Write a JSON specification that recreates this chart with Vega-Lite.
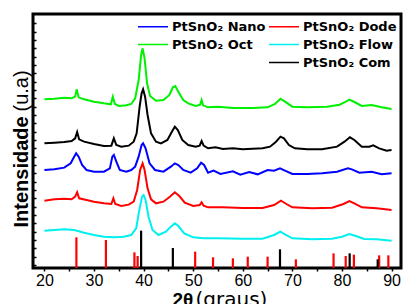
{
  "$schema": "https://vega.github.io/schema/vega-lite/v6.json",
  "width": 368,
  "height": 254,
  "autosize": {"type": "none"},
  "padding": {"left": 33, "top": 14, "right": 2, "bottom": 36},
  "config": {
    "view": {"stroke": "black", "strokeWidth": 3},
    "font": "Liberation Sans"
  },
  "datasets": {
    "curves": [
      {"s": "PtSnO₂ Oct", "t": 20, "i": 506}, {"s": "PtSnO₂ Oct", "t": 22, "i": 508}, {"s": "PtSnO₂ Oct", "t": 24, "i": 511}, {"s": "PtSnO₂ Oct", "t": 25.5, "i": 509}, {"s": "PtSnO₂ Oct", "t": 26.2, "i": 514}, {"s": "PtSnO₂ Oct", "t": 26.5, "i": 536}, {"s": "PtSnO₂ Oct", "t": 26.9, "i": 512}, {"s": "PtSnO₂ Oct", "t": 28, "i": 506}, {"s": "PtSnO₂ Oct", "t": 30, "i": 499}, {"s": "PtSnO₂ Oct", "t": 32, "i": 494}, {"s": "PtSnO₂ Oct", "t": 33.4, "i": 491}, {"s": "PtSnO₂ Oct", "t": 33.8, "i": 514}, {"s": "PtSnO₂ Oct", "t": 34.2, "i": 492}, {"s": "PtSnO₂ Oct", "t": 35, "i": 486}, {"s": "PtSnO₂ Oct", "t": 36.5, "i": 488}, {"s": "PtSnO₂ Oct", "t": 37.5, "i": 492}, {"s": "PtSnO₂ Oct", "t": 38.3, "i": 509}, {"s": "PtSnO₂ Oct", "t": 39.0, "i": 564}, {"s": "PtSnO₂ Oct", "t": 39.5, "i": 639}, {"s": "PtSnO₂ Oct", "t": 39.8, "i": 659}, {"s": "PtSnO₂ Oct", "t": 40.2, "i": 629}, {"s": "PtSnO₂ Oct", "t": 40.7, "i": 554}, {"s": "PtSnO₂ Oct", "t": 41.3, "i": 516}, {"s": "PtSnO₂ Oct", "t": 42.5, "i": 502}, {"s": "PtSnO₂ Oct", "t": 44, "i": 504}, {"s": "PtSnO₂ Oct", "t": 45.2, "i": 519}, {"s": "PtSnO₂ Oct", "t": 45.9, "i": 542}, {"s": "PtSnO₂ Oct", "t": 46.4, "i": 546}, {"s": "PtSnO₂ Oct", "t": 47, "i": 529}, {"s": "PtSnO₂ Oct", "t": 48, "i": 504}, {"s": "PtSnO₂ Oct", "t": 49, "i": 494}, {"s": "PtSnO₂ Oct", "t": 50.5, "i": 486}, {"s": "PtSnO₂ Oct", "t": 51.4, "i": 490}, {"s": "PtSnO₂ Oct", "t": 51.7, "i": 504}, {"s": "PtSnO₂ Oct", "t": 52, "i": 488}, {"s": "PtSnO₂ Oct", "t": 53, "i": 482}, {"s": "PtSnO₂ Oct", "t": 55, "i": 484}, {"s": "PtSnO₂ Oct", "t": 58, "i": 480}, {"s": "PtSnO₂ Oct", "t": 62, "i": 480}, {"s": "PtSnO₂ Oct", "t": 65, "i": 482}, {"s": "PtSnO₂ Oct", "t": 66.5, "i": 492}, {"s": "PtSnO₂ Oct", "t": 67.6, "i": 508}, {"s": "PtSnO₂ Oct", "t": 68.5, "i": 499}, {"s": "PtSnO₂ Oct", "t": 70, "i": 484}, {"s": "PtSnO₂ Oct", "t": 73, "i": 482}, {"s": "PtSnO₂ Oct", "t": 77, "i": 484}, {"s": "PtSnO₂ Oct", "t": 79.5, "i": 490}, {"s": "PtSnO₂ Oct", "t": 80.8, "i": 499}, {"s": "PtSnO₂ Oct", "t": 81.5, "i": 505}, {"s": "PtSnO₂ Oct", "t": 82.5, "i": 498}, {"s": "PtSnO₂ Oct", "t": 84, "i": 486}, {"s": "PtSnO₂ Oct", "t": 86, "i": 489}, {"s": "PtSnO₂ Oct", "t": 88, "i": 482}, {"s": "PtSnO₂ Oct", "t": 90, "i": 477},

      {"s": "PtSnO₂ Com", "t": 20, "i": 374}, {"s": "PtSnO₂ Com", "t": 22, "i": 376}, {"s": "PtSnO₂ Com", "t": 24, "i": 378}, {"s": "PtSnO₂ Com", "t": 25.5, "i": 381}, {"s": "PtSnO₂ Com", "t": 26.2, "i": 389}, {"s": "PtSnO₂ Com", "t": 26.6, "i": 408}, {"s": "PtSnO₂ Com", "t": 27, "i": 386}, {"s": "PtSnO₂ Com", "t": 28, "i": 379}, {"s": "PtSnO₂ Com", "t": 30, "i": 372}, {"s": "PtSnO₂ Com", "t": 32, "i": 366}, {"s": "PtSnO₂ Com", "t": 33.5, "i": 367}, {"s": "PtSnO₂ Com", "t": 34.0, "i": 389}, {"s": "PtSnO₂ Com", "t": 34.5, "i": 369}, {"s": "PtSnO₂ Com", "t": 35.5, "i": 364}, {"s": "PtSnO₂ Com", "t": 37, "i": 367}, {"s": "PtSnO₂ Com", "t": 38, "i": 379}, {"s": "PtSnO₂ Com", "t": 38.6, "i": 404}, {"s": "PtSnO₂ Com", "t": 39.2, "i": 484}, {"s": "PtSnO₂ Com", "t": 39.6, "i": 524}, {"s": "PtSnO₂ Com", "t": 39.9, "i": 536}, {"s": "PtSnO₂ Com", "t": 40.3, "i": 514}, {"s": "PtSnO₂ Com", "t": 40.8, "i": 459}, {"s": "PtSnO₂ Com", "t": 41.5, "i": 404}, {"s": "PtSnO₂ Com", "t": 42.5, "i": 379}, {"s": "PtSnO₂ Com", "t": 43.5, "i": 374}, {"s": "PtSnO₂ Com", "t": 44.8, "i": 384}, {"s": "PtSnO₂ Com", "t": 45.7, "i": 409}, {"s": "PtSnO₂ Com", "t": 46.3, "i": 424}, {"s": "PtSnO₂ Com", "t": 46.9, "i": 414}, {"s": "PtSnO₂ Com", "t": 47.8, "i": 384}, {"s": "PtSnO₂ Com", "t": 49, "i": 369}, {"s": "PtSnO₂ Com", "t": 50.5, "i": 364}, {"s": "PtSnO₂ Com", "t": 51.3, "i": 367}, {"s": "PtSnO₂ Com", "t": 51.7, "i": 381}, {"s": "PtSnO₂ Com", "t": 52.1, "i": 367}, {"s": "PtSnO₂ Com", "t": 53, "i": 359}, {"s": "PtSnO₂ Com", "t": 54.5, "i": 362}, {"s": "PtSnO₂ Com", "t": 56, "i": 357}, {"s": "PtSnO₂ Com", "t": 58, "i": 359}, {"s": "PtSnO₂ Com", "t": 60, "i": 356}, {"s": "PtSnO₂ Com", "t": 62, "i": 358}, {"s": "PtSnO₂ Com", "t": 64, "i": 359}, {"s": "PtSnO₂ Com", "t": 65.5, "i": 364}, {"s": "PtSnO₂ Com", "t": 66.7, "i": 379}, {"s": "PtSnO₂ Com", "t": 67.6, "i": 394}, {"s": "PtSnO₂ Com", "t": 68.3, "i": 389}, {"s": "PtSnO₂ Com", "t": 69.3, "i": 369}, {"s": "PtSnO₂ Com", "t": 70.5, "i": 359}, {"s": "PtSnO₂ Com", "t": 73, "i": 356}, {"s": "PtSnO₂ Com", "t": 76, "i": 356}, {"s": "PtSnO₂ Com", "t": 79, "i": 364}, {"s": "PtSnO₂ Com", "t": 80.5, "i": 379}, {"s": "PtSnO₂ Com", "t": 81.6, "i": 392}, {"s": "PtSnO₂ Com", "t": 82.5, "i": 384}, {"s": "PtSnO₂ Com", "t": 84, "i": 364}, {"s": "PtSnO₂ Com", "t": 85.5, "i": 364}, {"s": "PtSnO₂ Com", "t": 86.3, "i": 368}, {"s": "PtSnO₂ Com", "t": 87.5, "i": 359}, {"s": "PtSnO₂ Com", "t": 89, "i": 352}, {"s": "PtSnO₂ Com", "t": 90, "i": 354},

      {"s": "PtSnO₂ Nano", "t": 20, "i": 294}, {"s": "PtSnO₂ Nano", "t": 22, "i": 296}, {"s": "PtSnO₂ Nano", "t": 24, "i": 301}, {"s": "PtSnO₂ Nano", "t": 25.3, "i": 314}, {"s": "PtSnO₂ Nano", "t": 26.0, "i": 334}, {"s": "PtSnO₂ Nano", "t": 26.4, "i": 344}, {"s": "PtSnO₂ Nano", "t": 26.9, "i": 334}, {"s": "PtSnO₂ Nano", "t": 27.6, "i": 309}, {"s": "PtSnO₂ Nano", "t": 28.5, "i": 294}, {"s": "PtSnO₂ Nano", "t": 30, "i": 289}, {"s": "PtSnO₂ Nano", "t": 32, "i": 289}, {"s": "PtSnO₂ Nano", "t": 33.2, "i": 299}, {"s": "PtSnO₂ Nano", "t": 33.7, "i": 334}, {"s": "PtSnO₂ Nano", "t": 34.0, "i": 339}, {"s": "PtSnO₂ Nano", "t": 34.5, "i": 319}, {"s": "PtSnO₂ Nano", "t": 35.2, "i": 294}, {"s": "PtSnO₂ Nano", "t": 36.5, "i": 289}, {"s": "PtSnO₂ Nano", "t": 37.5, "i": 294}, {"s": "PtSnO₂ Nano", "t": 38.3, "i": 304}, {"s": "PtSnO₂ Nano", "t": 39.0, "i": 334}, {"s": "PtSnO₂ Nano", "t": 39.6, "i": 369}, {"s": "PtSnO₂ Nano", "t": 39.9, "i": 374}, {"s": "PtSnO₂ Nano", "t": 40.4, "i": 359}, {"s": "PtSnO₂ Nano", "t": 41.2, "i": 314}, {"s": "PtSnO₂ Nano", "t": 42.3, "i": 294}, {"s": "PtSnO₂ Nano", "t": 44, "i": 289}, {"s": "PtSnO₂ Nano", "t": 45.5, "i": 304}, {"s": "PtSnO₂ Nano", "t": 46.3, "i": 314}, {"s": "PtSnO₂ Nano", "t": 47, "i": 309}, {"s": "PtSnO₂ Nano", "t": 48, "i": 294}, {"s": "PtSnO₂ Nano", "t": 49.5, "i": 286}, {"s": "PtSnO₂ Nano", "t": 50.8, "i": 299}, {"s": "PtSnO₂ Nano", "t": 51.6, "i": 316}, {"s": "PtSnO₂ Nano", "t": 52.2, "i": 309}, {"s": "PtSnO₂ Nano", "t": 53, "i": 286}, {"s": "PtSnO₂ Nano", "t": 54.1, "i": 292}, {"s": "PtSnO₂ Nano", "t": 55.5, "i": 282}, {"s": "PtSnO₂ Nano", "t": 58, "i": 290}, {"s": "PtSnO₂ Nano", "t": 59.5, "i": 280}, {"s": "PtSnO₂ Nano", "t": 61.3, "i": 288}, {"s": "PtSnO₂ Nano", "t": 63, "i": 281}, {"s": "PtSnO₂ Nano", "t": 65, "i": 294}, {"s": "PtSnO₂ Nano", "t": 66.3, "i": 292}, {"s": "PtSnO₂ Nano", "t": 67.5, "i": 299}, {"s": "PtSnO₂ Nano", "t": 68.5, "i": 292}, {"s": "PtSnO₂ Nano", "t": 70, "i": 282}, {"s": "PtSnO₂ Nano", "t": 73, "i": 282}, {"s": "PtSnO₂ Nano", "t": 76, "i": 284}, {"s": "PtSnO₂ Nano", "t": 79, "i": 289}, {"s": "PtSnO₂ Nano", "t": 81.2, "i": 299}, {"s": "PtSnO₂ Nano", "t": 82, "i": 296}, {"s": "PtSnO₂ Nano", "t": 83.5, "i": 286}, {"s": "PtSnO₂ Nano", "t": 86, "i": 289}, {"s": "PtSnO₂ Nano", "t": 88, "i": 281}, {"s": "PtSnO₂ Nano", "t": 90, "i": 284},

      {"s": "PtSnO₂ Dode", "t": 20, "i": 202}, {"s": "PtSnO₂ Dode", "t": 22, "i": 206}, {"s": "PtSnO₂ Dode", "t": 24, "i": 208}, {"s": "PtSnO₂ Dode", "t": 25.5, "i": 206}, {"s": "PtSnO₂ Dode", "t": 26.2, "i": 214}, {"s": "PtSnO₂ Dode", "t": 26.6, "i": 227}, {"s": "PtSnO₂ Dode", "t": 27, "i": 209}, {"s": "PtSnO₂ Dode", "t": 28.5, "i": 204}, {"s": "PtSnO₂ Dode", "t": 30, "i": 199}, {"s": "PtSnO₂ Dode", "t": 32, "i": 194}, {"s": "PtSnO₂ Dode", "t": 33.5, "i": 192}, {"s": "PtSnO₂ Dode", "t": 33.9, "i": 209}, {"s": "PtSnO₂ Dode", "t": 34.3, "i": 192}, {"s": "PtSnO₂ Dode", "t": 35.5, "i": 186}, {"s": "PtSnO₂ Dode", "t": 37, "i": 190}, {"s": "PtSnO₂ Dode", "t": 38, "i": 199}, {"s": "PtSnO₂ Dode", "t": 38.7, "i": 234}, {"s": "PtSnO₂ Dode", "t": 39.3, "i": 294}, {"s": "PtSnO₂ Dode", "t": 39.8, "i": 314}, {"s": "PtSnO₂ Dode", "t": 40.2, "i": 294}, {"s": "PtSnO₂ Dode", "t": 40.8, "i": 239}, {"s": "PtSnO₂ Dode", "t": 41.5, "i": 206}, {"s": "PtSnO₂ Dode", "t": 42.5, "i": 194}, {"s": "PtSnO₂ Dode", "t": 44, "i": 199}, {"s": "PtSnO₂ Dode", "t": 45.3, "i": 214}, {"s": "PtSnO₂ Dode", "t": 46.3, "i": 227}, {"s": "PtSnO₂ Dode", "t": 47.2, "i": 216}, {"s": "PtSnO₂ Dode", "t": 48.3, "i": 196}, {"s": "PtSnO₂ Dode", "t": 50, "i": 186}, {"s": "PtSnO₂ Dode", "t": 51.3, "i": 189}, {"s": "PtSnO₂ Dode", "t": 51.7, "i": 197}, {"s": "PtSnO₂ Dode", "t": 52.1, "i": 187}, {"s": "PtSnO₂ Dode", "t": 53, "i": 182}, {"s": "PtSnO₂ Dode", "t": 56, "i": 182}, {"s": "PtSnO₂ Dode", "t": 60, "i": 180}, {"s": "PtSnO₂ Dode", "t": 64, "i": 180}, {"s": "PtSnO₂ Dode", "t": 66.3, "i": 189}, {"s": "PtSnO₂ Dode", "t": 67.7, "i": 202}, {"s": "PtSnO₂ Dode", "t": 68.8, "i": 192}, {"s": "PtSnO₂ Dode", "t": 70, "i": 182}, {"s": "PtSnO₂ Dode", "t": 74, "i": 179}, {"s": "PtSnO₂ Dode", "t": 78, "i": 181}, {"s": "PtSnO₂ Dode", "t": 80.3, "i": 192}, {"s": "PtSnO₂ Dode", "t": 81.5, "i": 201}, {"s": "PtSnO₂ Dode", "t": 82.5, "i": 194}, {"s": "PtSnO₂ Dode", "t": 84, "i": 182}, {"s": "PtSnO₂ Dode", "t": 87, "i": 179}, {"s": "PtSnO₂ Dode", "t": 90, "i": 174},

      {"s": "PtSnO₂ Flow", "t": 20, "i": 112}, {"s": "PtSnO₂ Flow", "t": 22, "i": 114}, {"s": "PtSnO₂ Flow", "t": 24, "i": 116}, {"s": "PtSnO₂ Flow", "t": 26, "i": 114}, {"s": "PtSnO₂ Flow", "t": 28, "i": 106}, {"s": "PtSnO₂ Flow", "t": 30, "i": 99}, {"s": "PtSnO₂ Flow", "t": 32, "i": 94}, {"s": "PtSnO₂ Flow", "t": 34, "i": 92}, {"s": "PtSnO₂ Flow", "t": 36, "i": 94}, {"s": "PtSnO₂ Flow", "t": 37.5, "i": 99}, {"s": "PtSnO₂ Flow", "t": 38.5, "i": 119}, {"s": "PtSnO₂ Flow", "t": 39.2, "i": 179}, {"s": "PtSnO₂ Flow", "t": 39.7, "i": 214}, {"s": "PtSnO₂ Flow", "t": 40.0, "i": 219}, {"s": "PtSnO₂ Flow", "t": 40.4, "i": 204}, {"s": "PtSnO₂ Flow", "t": 41, "i": 154}, {"s": "PtSnO₂ Flow", "t": 41.8, "i": 114}, {"s": "PtSnO₂ Flow", "t": 43, "i": 99}, {"s": "PtSnO₂ Flow", "t": 44.5, "i": 109}, {"s": "PtSnO₂ Flow", "t": 45.5, "i": 124}, {"s": "PtSnO₂ Flow", "t": 46.3, "i": 134}, {"s": "PtSnO₂ Flow", "t": 47, "i": 126}, {"s": "PtSnO₂ Flow", "t": 48.2, "i": 104}, {"s": "PtSnO₂ Flow", "t": 50, "i": 92}, {"s": "PtSnO₂ Flow", "t": 52, "i": 89}, {"s": "PtSnO₂ Flow", "t": 55, "i": 89}, {"s": "PtSnO₂ Flow", "t": 60, "i": 88}, {"s": "PtSnO₂ Flow", "t": 64, "i": 88}, {"s": "PtSnO₂ Flow", "t": 66.3, "i": 99}, {"s": "PtSnO₂ Flow", "t": 67.6, "i": 109}, {"s": "PtSnO₂ Flow", "t": 68.7, "i": 99}, {"s": "PtSnO₂ Flow", "t": 70, "i": 89}, {"s": "PtSnO₂ Flow", "t": 74, "i": 86}, {"s": "PtSnO₂ Flow", "t": 78, "i": 88}, {"s": "PtSnO₂ Flow", "t": 80, "i": 94}, {"s": "PtSnO₂ Flow", "t": 81.5, "i": 102}, {"s": "PtSnO₂ Flow", "t": 82.8, "i": 96}, {"s": "PtSnO₂ Flow", "t": 84.5, "i": 87}, {"s": "PtSnO₂ Flow", "t": 87, "i": 86}, {"s": "PtSnO₂ Flow", "t": 90, "i": 82}
    ],
    "sticks": [
      {"p": "SnO2", "t": 26.45, "h": 92}, {"p": "SnO2", "t": 32.4, "h": 84}, {"p": "SnO2", "t": 38.15, "h": 47}, {"p": "SnO2", "t": 38.8, "h": 36}, {"p": "SnO2", "t": 50.4, "h": 49}, {"p": "SnO2", "t": 54.0, "h": 32}, {"p": "SnO2", "t": 58.0, "h": 29}, {"p": "SnO2", "t": 61.0, "h": 34}, {"p": "SnO2", "t": 65.0, "h": 34}, {"p": "SnO2", "t": 70.7, "h": 26}, {"p": "SnO2", "t": 78.3, "h": 44}, {"p": "SnO2", "t": 80.75, "h": 36}, {"p": "SnO2", "t": 82.4, "h": 40}, {"p": "SnO2", "t": 87.5, "h": 38}, {"p": "SnO2", "t": 89.35, "h": 38},
      {"p": "Pt", "t": 39.5, "h": 112}, {"p": "Pt", "t": 45.9, "h": 60}, {"p": "Pt", "t": 67.5, "h": 56}, {"p": "Pt", "t": 81.55, "h": 44}, {"p": "Pt", "t": 87.2, "h": 26}
    ]
  },
  "layer": [
    {
      "data": {"name": "curves"},
      "mark": {"type": "line", "strokeWidth": 2},
      "encoding": {
        "x": {
          "field": "t", "type": "quantitative",
          "scale": {"domain": [17.7, 91.9], "nice": false, "zero": false},
          "axis": {
            "orient": "bottom",
            "values": [20, 25, 30, 35, 40, 45, 50, 55, 60, 65, 70, 75, 80, 85, 90],
            "labelExpr": "datum.value % 10 === 0 ? datum.label : ''",
            "labelFontSize": 16, "labelColor": "black", "labelFlush": false, "labelPadding": 1,
            "tickColor": "black", "tickSize": 3, "tickWidth": 1.5,
            "domain": false, "grid": false,
            "title": "2θ", "titleFontSize": 19, "titleFontWeight": "bold", "titleColor": "black",
            "titleAlign": "left", "titleBaseline": "alphabetic", "titleX": 139, "titleY": 37
          }
        },
        "y": {
          "field": "i", "type": "quantitative",
          "scale": {"domain": [0, 762], "nice": false},
          "axis": {
            "orient": "left",
            "values": [9, 34, 59, 84, 109, 134, 159, 184, 209, 234, 259, 284, 309, 334, 359, 384, 409, 434, 459, 484, 509, 534, 559, 584, 609, 634, 659, 684, 709, 734],
            "labels": false, "tickColor": "black", "tickSize": -3, "tickWidth": 1.5,
            "domain": false, "grid": false,
            "title": "Intensidade", "titleFontSize": 20, "titleFontWeight": "bold", "titleColor": "black",
            "titleAngle": 270, "titleAlign": "left", "titleBaseline": "alphabetic", "titleX": -5.5, "titleY": 213
          }
        },
        "color": {
          "field": "s", "type": "nominal",
          "scale": {
            "domain": ["PtSnO₂ Nano", "PtSnO₂ Oct", " ", "PtSnO₂ Dode", "PtSnO₂ Flow", "PtSnO₂ Com"],
            "range": ["#0000ff", "#00f000", "rgba(255,255,255,0)", "#ff0000", "#00f0f0", "#000000"]
          },
          "legend": {
            "title": null, "orient": "none", "legendX": 113.5, "legendY": 6,
            "columns": 2, "columnPadding": 0, "rowPadding": 4,
            "symbolType": "M-5,0H5", "symbolSize": 36, "symbolStrokeWidth": 1.5,
            "labelFont": "DejaVu Sans", "labelFontSize": 13, "labelFontWeight": "bold", "labelColor": "black",
            "labelOffset": 12.5, "padding": 0
          }
        }
      }
    },
    {
      "data": {"name": "sticks"},
      "mark": {"type": "rule", "strokeWidth": 2.2},
      "encoding": {
        "x": {
          "field": "t", "type": "quantitative",
          "axis": {
            "orient": "bottom", "labels": false, "ticks": false, "domain": false, "grid": false,
            "title": "(graus)", "titleFont": "DejaVu Sans", "titleFontSize": 20, "titleFontWeight": "normal", "titleColor": "black",
            "titleAlign": "left", "titleBaseline": "alphabetic", "titleX": 162, "titleY": 37
          }
        },
        "y": {
          "field": "h", "type": "quantitative",
          "axis": {
            "orient": "left", "labels": false, "ticks": false, "domain": false, "grid": false,
            "title": "(u.a)", "titleFontSize": 20, "titleFontWeight": "normal", "titleColor": "black",
            "titleAngle": 270, "titleAlign": "left", "titleBaseline": "alphabetic", "titleX": -5.5, "titleY": 97
          }
        },
        "y2": {"datum": 0},
        "stroke": {
          "field": "p", "type": "nominal",
          "scale": {"domain": ["SnO2", "Pt"], "range": ["#ff0000", "#000000"]},
          "legend": null
        }
      }
    }
  ],
  "resolve": {"axis": {"x": "independent", "y": "independent"}}
}
